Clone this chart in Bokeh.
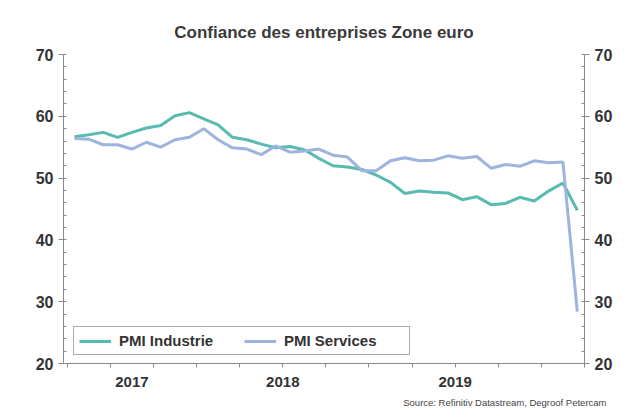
from bokeh.plotting import figure
from bokeh.models import (LinearAxis, FixedTicker, Range1d, Legend, LegendItem,
                          Title, ColumnDataSource)
from bokeh.embed import file_html
from bokeh.resources import INLINE

# ---- data (monthly, Apr 2017 .. Mar 2020) ----
start_year = 2017
start_month = 4
pmi_industrie = [56.7, 57.0, 57.4, 56.6, 57.4, 58.1, 58.5, 60.1, 60.6,
                 59.6, 58.6, 56.6, 56.2, 55.5, 54.9, 55.1, 54.6, 53.2, 52.0, 51.8, 51.4,
                 50.5, 49.3, 47.5, 47.9, 47.7, 47.6, 46.5, 47.0, 45.7, 45.9, 46.9, 46.3,
                 47.9, 49.2, 44.8]
pmi_services = [56.4, 56.3, 55.4, 55.4, 54.7, 55.8, 55.0, 56.2, 56.6,
                58.0, 56.2, 54.9, 54.7, 53.8, 55.2, 54.2, 54.4, 54.7, 53.7, 53.4, 51.2,
                51.2, 52.8, 53.3, 52.8, 52.9, 53.6, 53.2, 53.5, 51.6, 52.2, 51.9, 52.8,
                52.5, 52.6, 28.4]
year_labels = ["2017", "2018", "2019"]
series_names = ["PMI Industrie", "PMI Services"]
title_text = "Confiance des entreprises Zone euro"
source_text = "Source: Refinitiv Datastream, Degroof Petercam"

# position of each month = middle of the month, in fractional years
xs = []
for i in range(len(pmi_industrie)):
    m = start_month - 1 + i
    xs.append(start_year + (m // 12) + ((m % 12) + 0.5) / 12.0)

src = ColumnDataSource(dict(x=xs, ind=pmi_industrie, serv=pmi_services))

FONT = "Liberation Sans"
TXT = "#333333"
AXC = "#8a8a8a"
TEAL = "#58bab1"
BLUE = "#9db4de"

p = figure(width=635, height=416, output_backend="svg", toolbar_location=None,
           x_range=Range1d(2017.228, 2020.25), y_range=Range1d(20, 70),
           min_border_left=63, min_border_right=51, min_border_top=54,
           min_border_bottom=53, outline_line_color=None,
           background_fill_color="white", border_fill_color="white")

p.title.text = title_text
p.title.align = "center"
p.title.text_font = FONT
p.title.text_font_size = "17px"
p.title.text_font_style = "bold"
p.title.text_color = "#3a3a3a"
p.title.standoff = 25

p.xgrid.visible = False
p.ygrid.visible = False

r1 = p.line("x", "ind", source=src, line_color=TEAL, line_width=3)
r2 = p.line("x", "serv", source=src, line_color=BLUE, line_width=3)

# x axis: year labels at mid-year of visible part, quarterly minor ticks
label_pos = [2017.625, 2018.5, 2019.5]
quarters = [2017.25 + 0.25 * i for i in range(13)]
xa = p.xaxis[0]
xa.ticker = FixedTicker(ticks=label_pos, minor_ticks=quarters)
xa.major_label_overrides = {k: v for k, v in zip(label_pos, year_labels)}
xa.major_tick_line_color = None
xa.minor_tick_in = 0
xa.minor_tick_out = 4
xa.minor_tick_line_color = AXC
xa.axis_line_color = AXC
xa.major_label_text_font = FONT
xa.major_label_text_font_size = "15px"
xa.major_label_text_font_style = "bold"
xa.major_label_text_color = TXT
xa.major_label_standoff = 7

# y axes
ra = LinearAxis()
p.add_layout(ra, "right")
for ax in (p.yaxis[0], ra):
    ax.ticker = FixedTicker(ticks=[20, 30, 40, 50, 60, 70],
                            minor_ticks=list(range(20, 71, 2)))
    ax.axis_line_color = AXC
    ax.major_tick_line_color = AXC
    ax.minor_tick_line_color = AXC
    ax.major_tick_in = 0
    ax.major_tick_out = 5
    ax.minor_tick_in = 3
    ax.minor_tick_out = 0
    ax.major_label_text_font = FONT
    ax.major_label_text_font_size = "16px"
    ax.major_label_text_font_style = "bold"
    ax.major_label_text_color = TXT
    ax.major_label_standoff = 5

legend = Legend(items=[LegendItem(label=series_names[0], renderers=[r1]),
                       LegendItem(label=series_names[1], renderers=[r2])],
                orientation="horizontal", location=(10, 8), padding=5, spacing=5,
                label_width=120, label_height=12, glyph_width=32, glyph_height=12,
                label_standoff=8, margin=0,
                border_line_color="#555555", border_line_width=1.5,
                label_text_font=FONT, label_text_font_size="15px",
                label_text_font_style="bold", label_text_color=TXT,
                background_fill_color="white", background_fill_alpha=1)
p.add_layout(legend)

st = Title(text=source_text, align="right", text_font=FONT, text_font_size="9.5px",
           text_font_style="normal", text_color="#444444", offset=-22)
p.add_layout(st, "below")

open("out.html", "w").write(file_html(p, INLINE))
